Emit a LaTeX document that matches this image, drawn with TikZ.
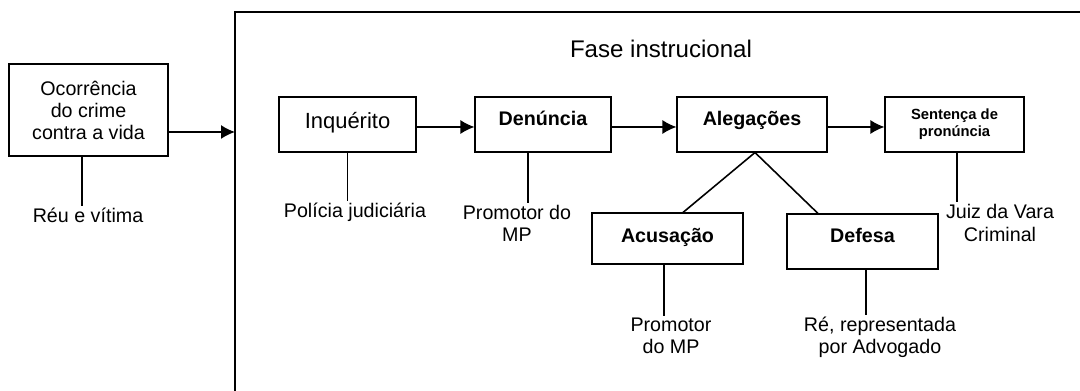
\documentclass[tikz,border=0pt]{standalone}
\usepackage{fontspec}
\setmainfont{Liberation Sans}
\usetikzlibrary{arrows.meta}

\tikzset{
  stage/.style={draw, line width=0.6pt, inner sep=0pt, align=center,
    text height=9pt, font=\fontsize{11.2}{12.5}\selectfont},
  who/.style={inner sep=1pt, align=center, font=\fontsize{11.2}{12.8}\selectfont},
  flow/.style={line width=0.9pt, -{Latex[length=0.28cm,width=0.28cm]}},
  link/.style={line width=0.9pt},
}

\begin{document}
\begin{tikzpicture}[x=0.02cm,y=-0.02cm]
  \useasboundingbox (0,0) rectangle (1080,391);

  % Fase instrucional (frame runs off the page)
  \coordinate (phaseTR) at (1080,12);
  \coordinate (phaseTL) at (235,12);
  \coordinate (phaseBL) at (235,391);
  \coordinate (phaseL) at (235,132);
  \draw[line width=1pt] (phaseTR) -- (phaseTL) -- (phaseBL);
  \node[font=\fontsize{13.7}{15}\selectfont] (title) at (661,49) {Fase instrucional};

  % Boxes
  \node[stage, text height=, minimum width=3.18cm, minimum height=1.84cm] (ocorr) at (88.5,110)
    {Ocorr\^encia\\do crime\\contra a vida};
  \node[stage, text depth=5pt, minimum width=2.74cm, minimum height=1.1cm,
    font=\fontsize{12.5}{14}\selectfont] (inq) at (347.5,124.5) {Inquérito};
  \node[stage, text depth=8.4pt, minimum width=2.72cm, minimum height=1.1cm,
    font=\fontsize{11.2}{12.5}\selectfont\bfseries] (den) at (543,124.5) {Denúncia};
  \node[stage, text depth=8.4pt, minimum width=3.0cm, minimum height=1.1cm,
    font=\fontsize{11.2}{12.5}\selectfont\bfseries] (aleg) at (752,124.5) {Alegações};
  \node[stage, text height=, minimum width=2.78cm, minimum height=1.1cm,
    font=\fontsize{8.4}{9.6}\selectfont\bfseries] (sent) at (954.5,124.5) {Sentença de\\pronúncia};
  \node[stage, text depth=5pt, minimum width=3.02cm, minimum height=1.02cm,
    font=\fontsize{11.2}{12.5}\selectfont\bfseries] (acus) at (667.5,238.5) {Acusação};
  \node[stage, text depth=8.4pt, minimum width=3.02cm, minimum height=1.1cm,
    font=\fontsize{11.2}{12.5}\selectfont\bfseries] (def) at (862.5,241.5) {Defesa};

  % Who acts
  \node[who] (reu) at (88,215) {Réu e vítima};
  \node[who] (pol) at (355,212) {Polícia judiciária};
  \node[who] (mpDen) at (517,223.5) {Promotor do\\MP};
  \node[who] (juiz) at (1000,223) {Juiz da Vara\\Criminal};
  \node[who] (mpAcus) at (671,336) {Promotor\\do MP};
  \node[who] (reAdv) at (880,337.5) {Ré, representada\\por Advogado};

  % Flow
  \draw[flow] (ocorr.east |- phaseL) -- (phaseL);
  \draw[flow] ([yshift=-0.05cm]inq.east) -- ([yshift=-0.05cm]den.west);
  \draw[flow] ([yshift=-0.05cm]den.east) -- ([yshift=-0.05cm]aleg.west);
  \draw[flow] ([yshift=-0.05cm]aleg.east) -- ([yshift=-0.05cm]sent.west);
  \draw[link] ([xshift=0.06cm]aleg.south) -- ([xshift=0.31cm]acus.north);
  \draw[link] ([xshift=0.06cm]aleg.south) -- ([xshift=-0.89cm]def.north);

  % Stems
  \draw[link] ([xshift=-0.13cm]ocorr.south) -- ([xshift=-0.13cm]ocorr.south |- reu.north);
  \draw[link] (inq.south) -- (inq.south |- pol.north);
  \draw[link] ([xshift=-0.3cm]den.south) -- ([xshift=-0.3cm]den.south |- mpDen.north);
  \draw[link] ([xshift=0.05cm]sent.south) -- ([xshift=0.05cm]sent.south |- juiz.north);
  \draw[link] ([xshift=-0.07cm]acus.south) -- ([xshift=-0.07cm]acus.south |- mpAcus.north);
  \draw[link] ([xshift=0.07cm]def.south) -- ([xshift=0.07cm]def.south |- reAdv.north);
\end{tikzpicture}
\end{document}
